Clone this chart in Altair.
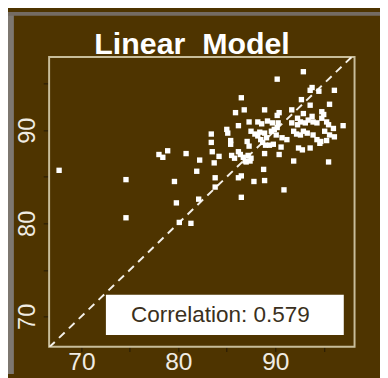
import altair as alt
import pandas as pd

# ---- data ----
x_vals = [67.7, 74.6, 74.6, 78.0, 78.4, 78.9, 80.8, 79.6, 79.8, 80.1,
          81.3, 82.2, 81.9, 82.1, 83.4, 83.4, 83.5, 83.7, 83.8, 83.8,
          84.2, 85.0, 85.1, 85.4, 85.4, 85.5, 85.8, 85.9, 86.2, 86.2,
          86.4, 86.2, 86.5, 86.5, 86.5, 86.8, 86.7, 86.9, 87.0, 87.4,
          87.5, 87.2, 87.1, 87.3, 87.3, 87.5, 87.9, 87.8, 88.2, 88.6,
          88.2, 88.4, 88.5, 88.7, 88.9, 88.9, 89.1, 89.0, 88.9, 88.8,
          88.9, 89.2, 89.4, 89.6, 89.9, 90.1, 89.7, 89.8, 90.2, 90.2,
          90.4, 90.3, 90.2, 90.4, 90.6, 90.7, 90.9, 91.2, 91.7, 91.7,
          91.9, 91.9, 92.2, 92.3, 92.3, 92.4, 92.8, 92.6, 92.6, 92.7,
          92.9, 92.9, 92.9, 93.1, 93.3, 93.4, 93.6, 93.6, 93.6, 93.8,
          93.8, 93.9, 93.9, 94.5, 94.3, 94.3, 94.6, 94.8, 95.0, 94.8,
          94.7, 95.1, 95.3, 95.3, 95.5, 95.5, 95.6, 95.6, 96.0, 96.1,
          96.1, 97.0]
y_vals = [85.7, 84.7, 80.6, 87.4, 87.1, 87.8, 87.5, 84.5, 82.2, 80.1,
          80.0, 86.8, 85.6, 82.6, 89.6, 88.7, 87.7, 86.5, 84.9, 83.9,
          87.2, 90.1, 89.7, 88.9, 88.5, 87.3, 87.0, 91.9, 90.5, 87.7,
          87.4, 84.9, 85.1, 93.5, 82.8, 92.2, 87.1, 86.7, 86.6, 86.7,
          87.0, 87.3, 88.8, 88.3, 90.9, 89.9, 89.6, 84.5, 90.9, 90.7,
          89.4, 89.8, 89.0, 88.7, 92.2, 89.7, 89.2, 88.4, 87.5, 85.8,
          84.6, 91.0, 88.4, 89.9, 90.1, 89.5, 90.8, 88.5, 95.5, 91.6,
          91.9, 90.8, 90.3, 87.4, 88.2, 89.2, 83.6, 89.0, 92.2, 90.8,
          89.9, 86.7, 89.6, 91.3, 90.6, 88.1, 87.9, 90.9, 89.5, 93.3,
          96.3, 91.8, 89.9, 90.8, 89.7, 91.1, 92.7, 94.3, 88.1, 94.6,
          91.5, 89.5, 90.9, 94.2, 90.8, 89.0, 88.6, 92.0, 91.7, 91.3,
          88.8, 89.9, 90.9, 88.9, 90.6, 86.6, 92.8, 89.5, 90.2, 94.3,
          89.3, 90.5]

title_text = "Linear\u00a0\u00a0Model"
corr_label = "Correlation: 0.579"
x_ticks = [70, 75, 80, 85, 90, 95]
y_ticks = [70, 75, 80, 85, 90, 95]
x_domain = [66.67, 98.18]
y_domain = [66.74, 97.89]
diag_vals = [66.67, 98.18]

W, H = 312, 296
FONT = "Liberation Sans"
BROWN = "#4e3400"
FRAME = "#c8bd9a"
LABEL = "#f0ece4"
TICK = "#2a1d05"

pts = pd.DataFrame({"x": x_vals, "y": y_vals})
diag = pd.DataFrame({"x": diag_vals, "y": diag_vals})
one = pd.DataFrame({"a": [0]})

xs = alt.Scale(domain=x_domain, nice=False, zero=False)
ys = alt.Scale(domain=y_domain, nice=False, zero=False)

xaxis = alt.Axis(values=x_ticks, title=None, grid=False, domain=False,
                 labelExpr="datum.value % 10 == 0 ? datum.label : ''",
                 tickSize=5, tickColor=TICK, tickWidth=1.2,
                 labelColor=LABEL, labelFont=FONT, labelFontSize=25,
                 labelBaseline="alphabetic", labelPadding=18,
                 labelOverlap=False, labelFlush=False)
yaxis = alt.Axis(values=y_ticks, title=None, grid=False, domain=False,
                 labelExpr="datum.value % 10 == 0 ? datum.label : ''",
                 tickSize=6, tickColor=TICK, tickWidth=1.2,
                 labelColor=LABEL, labelFont=FONT, labelFontSize=24,
                 labelAngle=270, labelAlign="center",
                 labelBaseline="alphabetic", labelPadding=9,
                 labelOverlap=False, labelFlush=False)

# outer photo-like strips
strip_left = alt.Chart(one).mark_rect(color="#7d7770").encode(
    x=alt.value(-42), x2=alt.value(-36), y=alt.value(-46), y2=alt.value(324))
strip_top = alt.Chart(one).mark_rect(color="#746b62").encode(
    x=alt.value(-42), x2=alt.value(338), y=alt.value(-46), y2=alt.value(-42))

frame = alt.Chart(one).mark_rect(fillOpacity=0, stroke=FRAME, strokeWidth=2).encode(
    x=alt.value(0), x2=alt.value(W), y=alt.value(0), y2=alt.value(H))

line = alt.Chart(diag).mark_line(color="#f4f0e8", strokeWidth=2,
                                 strokeDash=[8, 6], clip=True).encode(
    x=alt.X("x:Q", scale=xs, axis=xaxis),
    y=alt.Y("y:Q", scale=ys, axis=yaxis))

points = alt.Chart(pts).mark_square(size=30, color="white", opacity=1).encode(
    x=alt.X("x:Q", scale=xs),
    y=alt.Y("y:Q", scale=ys))

box = alt.Chart(one).mark_rect(color="white").encode(
    x=alt.value(58), x2=alt.value(301), y=alt.value(243), y2=alt.value(284))
box_text = alt.Chart(one).mark_text(text=corr_label, font=FONT, fontSize=23,
                                    color="#3a3020", align="center",
                                    baseline="middle").encode(
    x=alt.value(175), y=alt.value(264))

title = alt.Chart(one).mark_text(text=title_text, font=FONT, fontSize=31,
                                 fontWeight="bold", color="white",
                                 align="center", baseline="alphabetic").encode(
    x=alt.value(146), y=alt.value(-2.5))

chart = alt.layer(strip_left, strip_top, frame, line, points, box, box_text, title).properties(
    width=W, height=H, background=BROWN,
    padding={"left": 42, "top": 46, "right": 26, "bottom": 28},
    autosize=alt.AutoSizeParams(type="none"),
).configure_view(stroke="transparent")

chart.save("out.html", embed_options={"renderer": "svg", "actions": False})
